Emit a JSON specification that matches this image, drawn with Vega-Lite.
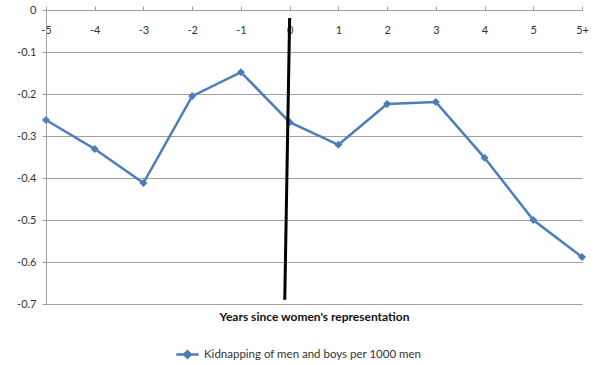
{
  "$schema": "https://vega.github.io/schema/vega-lite/v6.json",
  "width": 536,
  "height": 294,
  "autosize": "none",
  "padding": {"left": 46, "top": 10, "right": 18, "bottom": 61},
  "background": "white",
  "config": {
    "view": {"stroke": null},
    "font": "Lato",
    "axis": {"labelFont": "Lato", "titleFont": "Lato"},
    "legend": {"labelFont": "Lato"}
  },
  "datasets": {
    "series": [
      {"year": -5, "value": -0.262, "series": "Kidnapping of men and boys per 1000 men"},
      {"year": -4, "value": -0.331, "series": "Kidnapping of men and boys per 1000 men"},
      {"year": -3, "value": -0.412, "series": "Kidnapping of men and boys per 1000 men"},
      {"year": -2, "value": -0.205, "series": "Kidnapping of men and boys per 1000 men"},
      {"year": -1, "value": -0.148, "series": "Kidnapping of men and boys per 1000 men"},
      {"year": 0, "value": -0.267, "series": "Kidnapping of men and boys per 1000 men"},
      {"year": 1, "value": -0.321, "series": "Kidnapping of men and boys per 1000 men"},
      {"year": 2, "value": -0.224, "series": "Kidnapping of men and boys per 1000 men"},
      {"year": 3, "value": -0.219, "series": "Kidnapping of men and boys per 1000 men"},
      {"year": 4, "value": -0.352, "series": "Kidnapping of men and boys per 1000 men"},
      {"year": 5, "value": -0.5, "series": "Kidnapping of men and boys per 1000 men"},
      {"year": 6, "value": -0.588, "series": "Kidnapping of men and boys per 1000 men"}
    ],
    "divider": [
      {"x": 0.0, "y": -0.019, "x2": -0.1, "y2": -0.69}
    ]
  },
  "layer": [
    {
      "data": {"name": "series"},
      "mark": {"type": "line", "strokeWidth": 2.5, "point": {"shape": "diamond", "size": 65, "filled": true}},
      "encoding": {
        "x": {
          "field": "year", "type": "quantitative",
          "scale": {"domain": [-5, 6], "nice": false, "zero": false},
          "axis": {
            "orient": "top",
            "values": [-5, -4, -3, -2, -1, 0, 1, 2, 3, 4, 5, 6],
            "labelExpr": "datum.value == 6 ? '5+' : '' + datum.value",
            "labelFlush": false,
            "grid": false,
            "domainColor": "#a0a0a0",
            "tickColor": "#a0a0a0",
            "tickSize": 4,
            "labelPadding": -24,
            "labelBaseline": "middle",
            "labelFontSize": 11,
            "labelColor": "#333333",
            "title": "Years since women's representation",
            "titleY": 306,
            "titleBaseline": "middle",
            "titleFontSize": 12,
            "titleFontWeight": "bold",
            "titleColor": "#111111"
          }
        },
        "y": {
          "field": "value", "type": "quantitative",
          "scale": {"domain": [-0.7, 0], "nice": false, "zero": false},
          "axis": {
            "values": [0, -0.1, -0.2, -0.3, -0.4, -0.5, -0.6, -0.7],
            "labelExpr": "datum.value == 0 ? '0' : '-' + format(-datum.value, '.1f')",
            "grid": true,
            "gridColor": "#a0a0a0",
            "domainColor": "#a0a0a0",
            "tickColor": "#a0a0a0",
            "tickSize": 4,
            "labelPadding": 6,
            "labelFontSize": 11,
            "labelColor": "#333333",
            "title": null
          }
        },
        "color": {
          "field": "series", "type": "nominal",
          "scale": {"range": ["#4a7ebb"]},
          "legend": {
            "title": null,
            "orient": "none",
            "legendX": 129,
            "legendY": 332,
            "symbolType": "M-1,0L1,0M-0.3,0L0,-0.3L0.3,0L0,0.3Z",
            "symbolSize": 500,
            "symbolStrokeWidth": 2.5,
            "symbolFillColor": "#4a7ebb",
            "labelFontSize": 11.5,
            "labelLimit": 0,
            "labelColor": "#333333",
            "labelOffset": 4
          }
        }
      }
    },
    {
      "data": {"name": "divider"},
      "mark": {"type": "rule", "color": "black", "strokeWidth": 3},
      "encoding": {
        "x": {"field": "x", "type": "quantitative"},
        "y": {"field": "y", "type": "quantitative"},
        "x2": {"field": "x2"},
        "y2": {"field": "y2"}
      }
    }
  ]
}
